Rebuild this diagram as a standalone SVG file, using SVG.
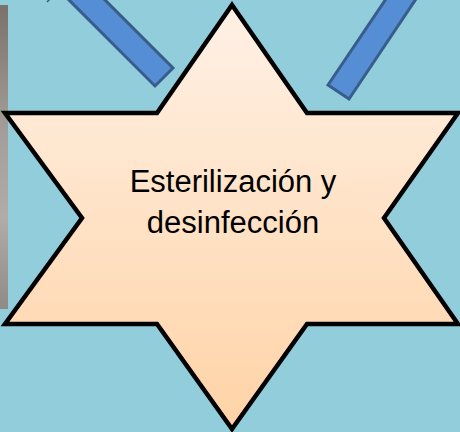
<svg xmlns="http://www.w3.org/2000/svg" width="460" height="432" viewBox="0 0 460 432">
  <defs>
    <linearGradient id="starFill" x1="0" y1="0" x2="0" y2="1">
      <stop offset="0" stop-color="#FFF1E6"/>
      <stop offset="1" stop-color="#FFD3A6"/>
    </linearGradient>
    <linearGradient id="grayStrip" x1="0" y1="0" x2="0" y2="1">
      <stop offset="0" stop-color="#7A716A"/>
      <stop offset="0.4" stop-color="#A29D98"/>
      <stop offset="0.7" stop-color="#B0ACA8"/>
      <stop offset="1" stop-color="#8E8A86"/>
    </linearGradient>
    <style>
      .bar { fill: #558ED5; stroke: #385D8A; stroke-width: 3; stroke-linejoin: miter; }
      .star { fill: url(#starFill); stroke: #000000; stroke-width: 4.5; stroke-linejoin: miter; }
      .label { font-family: "Liberation Sans", Arial, sans-serif; font-size: 31px; fill: #000000; text-anchor: middle; }
    </style>
  </defs>
  <rect x="0" y="0" width="460" height="432" fill="#92CDDC"/>
  <rect id="side-image" x="0" y="5" width="8" height="304" fill="url(#grayStrip)"/>
  <g id="connectors">
    <polygon class="bar" points="173,68 155,86 55,-14 73,-32"/>
    <polygon class="bar" points="328,85 349,99 422,-10 392,-10"/>
    <line x1="47" y1="2" x2="50" y2="-1" stroke="#385D8A" stroke-width="1.5"/>
  </g>
  <g id="star-node">
    <polygon class="star" points="232,5 307,113 458,113 384,218 458,324 307,324 232,429 157,324 5,324 82,218 5,113 157,113"/>
    <text class="label" x="233" y="192">Esterilización y</text>
    <text class="label" x="233" y="233">desinfección</text>
  </g>
</svg>
